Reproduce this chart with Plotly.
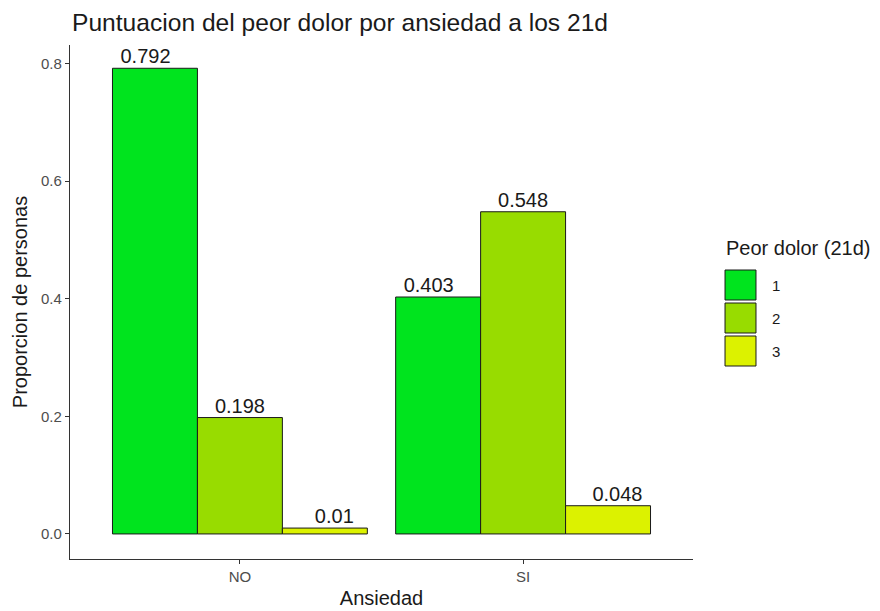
import plotly.graph_objects as go

# Data
ansiedad = ["NO", "SI"]
niveles = ["1", "2", "3"]
proporciones = {
    "1": [0.792, 0.403],
    "2": [0.198, 0.548],
    "3": [0.01, 0.048],
}
colores = {"1": "#00E41E", "2": "#98DC00", "3": "#DCF200"}

FONT = "Liberation Sans, Arial, sans-serif"
DARK = "#1a1a1a"

pos = list(range(len(ansiedad)))
# value labels are dodged with width 1 (bars use 0.9)
text_dodge = 1.0 / len(niveles)

fig = go.Figure()
for k, n in enumerate(niveles):
    fig.add_trace(go.Bar(
        x=pos,
        y=proporciones[n],
        name=n,
        marker=dict(color=colores[n], line=dict(color=DARK, width=1)),
        cliponaxis=False,
        showlegend=False,
    ))
for k, n in enumerate(niveles):
    off = (k - (len(niveles) - 1) / 2) * text_dodge
    fig.add_trace(go.Scatter(
        x=[p + off for p in pos],
        y=proporciones[n],
        mode="text",
        text=[f"{v:g}" for v in proporciones[n]],
        textposition="top center",
        textfont=dict(family=FONT, size=20, color=DARK),
        cliponaxis=False,
        showlegend=False,
        hoverinfo="skip",
    ))

# Legend drawn as keyed boxes to the right of the panel
PLOT_H = 514
x0, x1 = 1.0514, 1.1011
key_h = 30 / PLOT_H
key_step = 33 / PLOT_H
top = (559 - 270) / PLOT_H
shapes = []
annotations = [dict(
    text="Peor dolor (21d)", xref="paper", yref="paper",
    x=1.0498, y=(559 - 248) / PLOT_H, xanchor="left", yanchor="middle",
    showarrow=False, font=dict(family=FONT, size=20, color=DARK),
)]
for i, n in enumerate(niveles):
    yt = top - i * key_step
    yb = yt - key_h
    shapes.append(dict(
        type="rect", xref="paper", yref="paper",
        x0=x0, x1=x1, y0=yb, y1=yt,
        fillcolor=colores[n], line=dict(color=DARK, width=1),
    ))
    annotations.append(dict(
        text=n, xref="paper", yref="paper",
        x=1.1236, y=(yt + yb) / 2, xanchor="left", yanchor="middle",
        showarrow=False, font=dict(family=FONT, size=15, color=DARK),
    ))

fig.update_layout(
    width=880, height=611,
    margin=dict(l=70, r=187, t=45, b=52),
    paper_bgcolor="white", plot_bgcolor="white",
    barmode="group", bargap=0.1, bargroupgap=0,
    title=dict(
        text="Puntuacion del peor dolor por ansiedad a los 21d",
        x=72 / 880, xanchor="left", y=1 - 22 / 611, yanchor="middle",
        font=dict(family=FONT, size=24.6, color=DARK),
    ),
    xaxis=dict(
        type="linear", range=[-0.6, 1.6], tickvals=pos, ticktext=ansiedad,
        showgrid=False, zeroline=False, automargin=False,
        showline=True, linecolor="#333333", linewidth=1.2,
        ticks="outside", ticklen=4, tickcolor="#333333", tickwidth=1.1,
        tickfont=dict(family=FONT, size=15, color="#4D4D4D"),
        title=dict(text="Ansiedad", font=dict(family=FONT, size=20, color=DARK), standoff=6),
    ),
    yaxis=dict(
        range=[-0.0426, 0.8316], showgrid=False, zeroline=False, automargin=False,
        showline=True, linecolor="#333333", linewidth=1.2,
        ticks="outside", ticklen=4, tickcolor="#333333", tickwidth=1.1,
        tickvals=[0, 0.2, 0.4, 0.6, 0.8], tickformat=".1f",
        tickfont=dict(family=FONT, size=15, color="#4D4D4D"),
        title=dict(text="Proporcion de personas", font=dict(family=FONT, size=20, color=DARK), standoff=8),
    ),
    shapes=shapes,
    annotations=annotations,
)

fig.write_html("out.html")
